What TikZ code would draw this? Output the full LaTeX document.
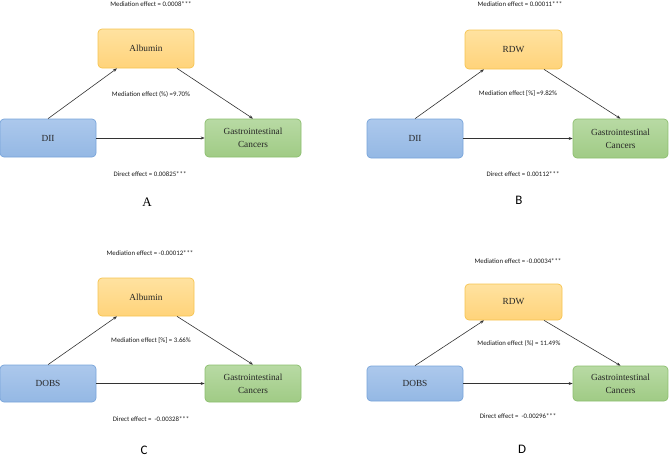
\documentclass[tikz,border=0pt]{standalone}
\usepackage{fontspec}
\setmainfont{Liberation Serif}
\newfontfamily\lblfont{Carlito}
\usetikzlibrary{arrows.meta}
\definecolor{medtop}{RGB}{255,226,160}
\definecolor{medbot}{RGB}{255,211,122}
\definecolor{medline}{RGB}{246,196,80}
\definecolor{srctop}{RGB}{172,200,236}
\definecolor{srcbot}{RGB}{148,184,228}
\definecolor{srcline}{RGB}{120,164,218}
\definecolor{gctop}{RGB}{184,218,164}
\definecolor{gcbot}{RGB}{160,203,133}
\definecolor{gcline}{RGB}{140,190,110}
\tikzset{
  boxbase/.style={rounded corners=4pt, line width=0.7pt, align=center,
    font=\fontsize{9.3}{13}\selectfont, text=black!85, inner sep=0pt},
  medbox/.style={boxbase, top color=medtop, bottom color=medbot, draw=medline},
  srcbox/.style={boxbase, top color=srctop, bottom color=srcbot, draw=srcline},
  gcbox/.style={boxbase, top color=gctop, bottom color=gcbot, draw=gcline},
  lbl/.style={font=\lblfont\fontsize{6.8}{8}\selectfont, text=black!90, inner sep=0pt},
  panellbl/.style={font=\fontsize{13}{15}\selectfont, inner sep=0pt},
  sanslbl/.style={font=\lblfont\fontsize{13}{15}\selectfont, inner sep=0pt},
  conn/.style={draw=black!80, line width=0.6pt, -{Stealth[length=4pt,width=3pt]}}
}
\begin{document}
\begin{tikzpicture}[x=1pt,y=-1pt]
\useasboundingbox (0,0) rectangle (669,458);
% Panel A
\node[medbox, minimum width=96pt, minimum height=39pt] (medA) at (146,48.5) {Albumin};
\node[srcbox, minimum width=96pt, minimum height=38pt] (diiA) at (48,138) {DII};
\node[gcbox, minimum width=96pt, minimum height=38pt] (gcA) at (253,138) {Gastrointestinal\\Cancers};
\draw[conn] (diiA.north) -- ([xshift=-29pt]medA.south);
\draw[conn] ([xshift=31pt]medA.south) -- (gcA.north);
\draw[conn] (diiA.east) -- (gcA.west);
\node[lbl] (mA) at (151,4) {Mediation effect = 0.0008***};
\node[lbl] (pA) at (151,94) {Mediation effect (\%) =9.70\%};
\node[lbl] (dA) at (150,174) {Direct effect = 0.00825***};
\node[panellbl] (A) at (147,202) {A};
% Panel B
\node[medbox, minimum width=97pt, minimum height=39pt] (medB) at (513.5,49.5) {RDW};
\node[srcbox, minimum width=96pt, minimum height=39pt] (diiB) at (415,138.5) {DII};
\node[gcbox, minimum width=95pt, minimum height=39pt] (gcB) at (620.5,138.5) {Gastrointestinal\\Cancers};
\draw[conn] (diiB.north) -- ([xshift=-29.5pt]medB.south);
\draw[conn] ([xshift=30.5pt]medB.south) -- (gcB.north);
\draw[conn] (diiB.east) -- (gcB.west);
\node[lbl] (mB) at (520,4) {Mediation effect = 0.00011***};
\node[lbl] (pB) at (518,94) {Mediation effect [\%] =9.82\%};
\node[lbl] (dB) at (523,174) {Direct effect = 0.00112***};
\node[sanslbl] (B) at (519,200) {B};
% Panel C
\node[medbox, minimum width=96pt, minimum height=38pt] (medC) at (146,297) {Albumin};
\node[srcbox, minimum width=96pt, minimum height=37pt] (diiC) at (48,383.5) {DOBS};
\node[gcbox, minimum width=96pt, minimum height=37pt] (gcC) at (253,383.5) {Gastrointestinal\\Cancers};
\draw[conn] (diiC.north) -- ([xshift=-29pt]medC.south);
\draw[conn] ([xshift=31pt]medC.south) -- (gcC.north);
\draw[conn] (diiC.east) -- (gcC.west);
\node[lbl] (mC) at (150,253) {Mediation effect = -0.00012***};
\node[lbl] (pC) at (151,341) {Mediation effect [\%] = 3.66\%};
\node[lbl] (dC) at (151,419) {Direct effect = \ -0.00328***};
\node[sanslbl] (C) at (144,450) {C};
% Panel D
\node[medbox, minimum width=97pt, minimum height=36pt] (medD) at (513.5,302) {RDW};
\node[srcbox, minimum width=96pt, minimum height=35pt] (diiD) at (415,383.5) {DOBS};
\node[gcbox, minimum width=95pt, minimum height=35pt] (gcD) at (620.5,383.5) {Gastrointestinal\\Cancers};
\draw[conn] (diiD.north) -- ([xshift=-29.5pt]medD.south);
\draw[conn] ([xshift=30.5pt]medD.south) -- (gcD.north);
\draw[conn] (diiD.east) -- (gcD.west);
\node[lbl] (mD) at (518,261) {Mediation effect = -0.00034***};
\node[lbl] (pD) at (519,343) {Mediation effect (\%) = 11.49\%};
\node[lbl] (dD) at (518,416) {Direct effect = \ -0.00296***};
\node[sanslbl] (D) at (522,449.5) {D};
\end{tikzpicture}
\end{document}
